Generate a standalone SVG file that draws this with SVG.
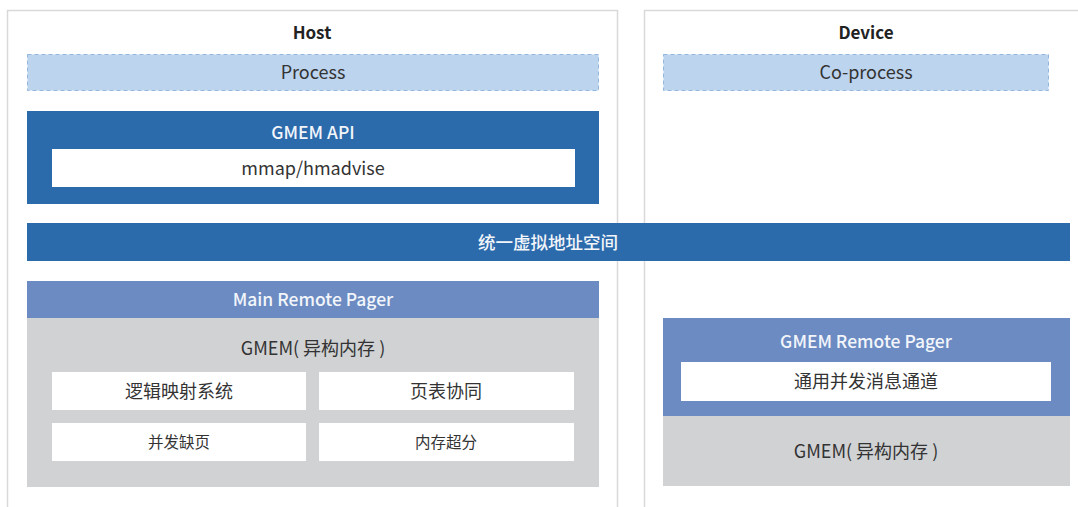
<svg xmlns="http://www.w3.org/2000/svg" width="1078" height="507" viewBox="0 0 1078 507">
<style>
text{font-family:"Noto Sans CJK SC","Noto Sans",sans-serif;text-anchor:middle;dominant-baseline:central}
.panel{fill:#fff;stroke:#d9d9d9;stroke-width:1.5}
.proc{fill:#bdd4ee;stroke:#93b7df;stroke-width:1;stroke-dasharray:4 3}
.dark{fill:#2b6aab}
.mid{fill:#6b8bc2}
.gray{fill:#d1d2d4}
.white{fill:#fff}
.t{fill:#333;font-size:18px}
.tw{fill:#f2f5fa;font-size:17.5px;font-weight:500}
.title{fill:#222;font-size:17px;font-weight:bold}
.s{fill:#333;font-size:15.5px}
</style>
<rect width="1078" height="507" fill="#fff"/>
<g id="host">
<rect class="panel" x="7.5" y="10.5" width="610" height="510"/>
<text class="title" x="312" y="31">Host</text>
</g>
<g id="device">
<rect class="panel" x="644.5" y="10.5" width="450" height="510"/>
<text class="title" x="866" y="31">Device</text>
</g>
<g id="process">
<rect class="proc" x="27.5" y="54.5" width="571" height="36"/>
<text class="t" x="313" y="71">Process</text>
</g>
<g id="coprocess">
<rect class="proc" x="663.5" y="54.5" width="385" height="36"/>
<text class="t" x="866" y="71">Co-process</text>
</g>
<g id="gmem-api">
<rect class="dark" x="27" y="111" width="572" height="93"/>
<text class="tw" x="313" y="131">GMEM API</text>
<rect class="white" x="52" y="149" width="523" height="38"/>
<text class="t" x="313" y="167">mmap/hmadvise</text>
</g>
<g id="uva">
<rect class="dark" x="27" y="223" width="1043" height="38"/>
<text class="tw" x="548" y="241">统一虚拟地址空间</text>
</g>
<g id="main-pager">
<rect class="mid" x="27" y="281" width="572" height="37"/>
<text class="tw" x="313" y="298.5">Main Remote Pager</text>
<rect class="gray" x="27" y="318" width="572" height="169"/>
<text class="t" x="313" y="347">GMEM( 异构内存 )</text>
<rect class="white" x="52" y="372" width="254" height="38"/>
<text class="t" x="179" y="390">逻辑映射系统</text>
<rect class="white" x="319" y="372" width="255" height="38"/>
<text class="t" x="446" y="390">页表协同</text>
<rect class="white" x="52" y="423" width="254" height="38"/>
<text class="s" x="179" y="441">并发缺页</text>
<rect class="white" x="319" y="423" width="255" height="38"/>
<text class="s" x="446" y="441">内存超分</text>
</g>
<g id="gmem-pager">
<rect class="mid" x="663" y="318" width="407" height="98"/>
<text class="tw" x="866" y="340">GMEM Remote Pager</text>
<rect class="white" x="681" y="362" width="370" height="39"/>
<text class="t" x="866" y="380">通用并发消息通道</text>
<rect class="gray" x="663" y="416" width="407" height="70"/>
<text class="t" x="866" y="450">GMEM( 异构内存 )</text>
</g>
<g id="connectors"/>
</svg>
